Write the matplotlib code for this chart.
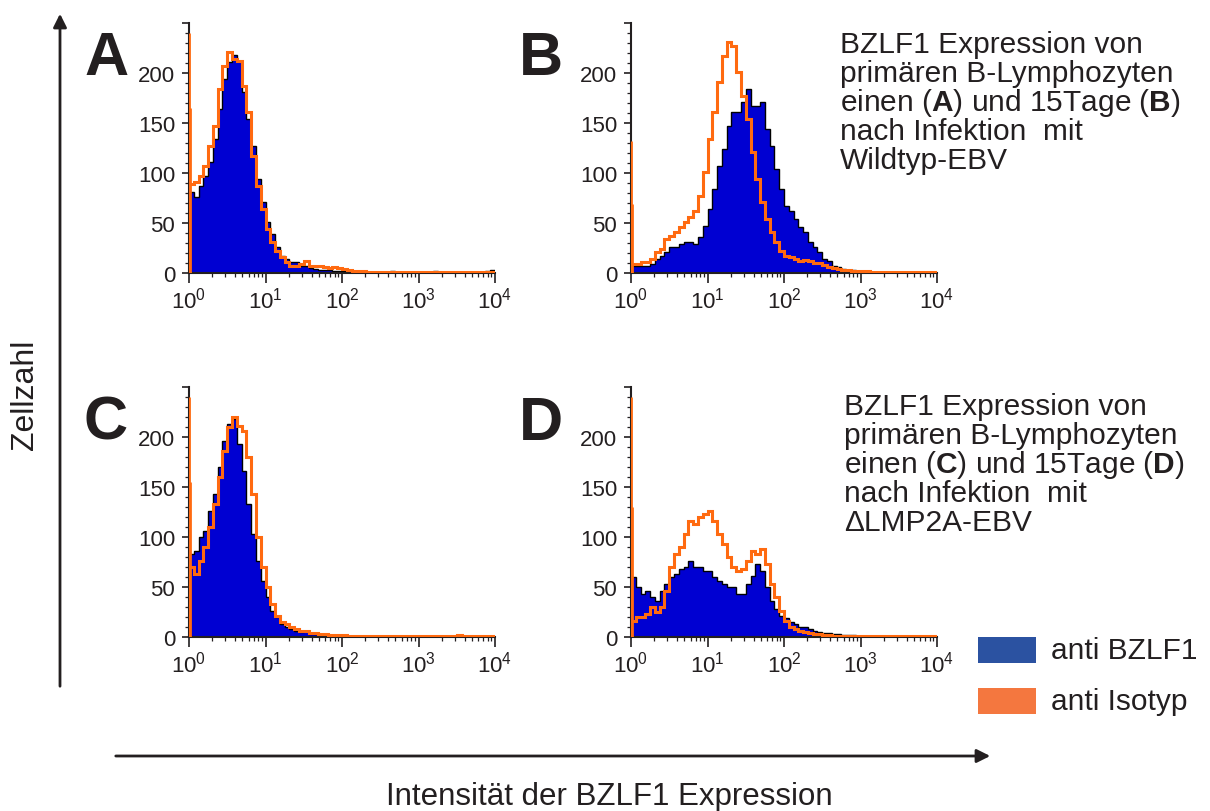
import numpy as np
import matplotlib.pyplot as plt
from matplotlib.patches import FancyArrowPatch, Rectangle
from matplotlib.ticker import FixedLocator, MultipleLocator, LogLocator, NullFormatter

plt.rcParams['font.family'] = ['Liberation Sans', 'DejaVu Sans']
plt.rcParams['mathtext.fontset'] = 'custom'
plt.rcParams['mathtext.rm'] = 'Liberation Sans'
plt.rcParams['mathtext.bf'] = 'Liberation Sans:bold'
plt.rcParams['mathtext.it'] = 'Liberation Sans:italic'

# histogram bins: 16 channels per decade, 10^0 .. 10^4
edges = 10 ** (np.arange(65) / 16)

# cell counts per bin
A_bzlf1 = [81, 76, 87, 97, 111, 134, 164, 194, 211, 218, 212, 181, 154, 127, 94, 71,
           51, 39, 26, 17, 14, 11, 11, 7, 7, 5, 4, 3, 3, 3, 2, 2,
           2, 2, 1, 1, 2, 1, 1, 1, 1, 1, 2, 1, 1, 1, 1, 1,
           1, 1, 1, 2, 1, 1, 1, 1, 1, 1, 1, 1, 1, 1, 2, 3]
A_isotyp = [89, 91, 97, 107, 127, 147, 184, 207, 221, 214, 212, 187, 161, 117, 87, 64,
            44, 31, 22, 16, 11, 7, 7, 9, 12, 7, 7, 7, 6, 5, 6, 5,
            4, 3, 2, 2, 2, 1, 1, 1, 1, 1, 1, 1, 1, 1, 1, 1,
            1, 1, 1, 1, 1, 1, 1, 1, 1, 1, 1, 1, 1, 1, 1, 1]
B_bzlf1 = [7, 7, 7, 7, 9, 14, 17, 21, 26, 26, 29, 31, 31, 29, 36, 47,
           64, 84, 107, 124, 147, 161, 161, 171, 184, 167, 167, 171, 144, 127, 104, 84,
           67, 62, 54, 46, 41, 31, 26, 21, 14, 12, 7, 6, 4, 3, 3, 2,
           2, 1, 1, 1, 1, 1, 1, 1, 1, 1, 1, 1, 1, 1, 1, 1]
B_isotyp = [9, 9, 11, 11, 14, 21, 24, 34, 37, 41, 46, 51, 56, 62, 77, 101,
            134, 161, 191, 217, 231, 227, 201, 177, 154, 121, 94, 71, 54, 41, 31, 22,
            17, 16, 14, 12, 13, 12, 10, 10, 8, 6, 5, 4, 3, 3, 2, 2,
            2, 2, 1, 1, 1, 1, 1, 1, 1, 1, 1, 1, 1, 1, 1, 1]
C_bzlf1 = [83, 86, 100, 106, 126, 143, 170, 196, 213, 218, 193, 166, 133, 103, 76, 56,
           40, 26, 20, 13, 10, 8, 6, 5, 6, 3, 3, 2, 2, 2, 2, 1,
           1, 1, 1, 1, 1, 1, 1, 1, 1, 1, 1, 1, 1, 1, 1, 1,
           1, 1, 1, 1, 1, 1, 1, 1, 1, 1, 1, 1, 1, 1, 1, 1]
C_isotyp = [70, 63, 76, 90, 110, 133, 160, 186, 210, 220, 211, 206, 180, 143, 100, 70,
            50, 33, 21, 15, 13, 10, 8, 6, 6, 4, 4, 3, 3, 2, 2, 2,
            2, 1, 1, 1, 1, 1, 1, 1, 1, 1, 1, 1, 1, 1, 1, 1,
            1, 1, 1, 1, 1, 1, 1, 1, 2, 1, 1, 1, 1, 1, 1, 1]
D_bzlf1 = [60, 50, 43, 46, 40, 36, 46, 53, 60, 63, 68, 70, 76, 70, 70, 66,
           66, 60, 56, 53, 50, 50, 43, 43, 53, 61, 73, 66, 50, 36, 28, 21,
           19, 15, 13, 10, 10, 8, 6, 5, 4, 4, 3, 3, 2, 2, 2, 1,
           1, 1, 1, 1, 1, 1, 1, 1, 1, 1, 1, 1, 1, 1, 1, 1]
D_isotyp = [16, 20, 20, 23, 30, 25, 30, 46, 70, 83, 90, 103, 116, 113, 120, 123,
            126, 116, 103, 93, 80, 70, 66, 68, 76, 86, 83, 88, 73, 53, 40, 26,
            16, 10, 8, 6, 5, 4, 3, 3, 2, 2, 1, 1, 1, 1, 1, 1,
            1, 1, 1, 1, 1, 1, 1, 1, 1, 1, 1, 1, 1, 1, 1, 1]
# off-scale events piled up in the first two channels (isotype)
A_spike = [240, 165]
B_spike = [132, 69]
C_spike = [240, 155]
D_spike = [240, 130]

y_ticks = [0, 50, 100, 150, 200, 250]
y_labels = ['0', '50', '100', '150', '200', '']

text_AB = ['BZLF1 Expression von', 'primären B-Lymphozyten',
           r'einen ($\mathbf{A}$) und 15Tage ($\mathbf{B}$)', 'nach Infektion  mit', 'Wildtyp-EBV']
text_CD = ['BZLF1 Expression von', 'primären B-Lymphozyten',
           r'einen ($\mathbf{C}$) und 15Tage ($\mathbf{D}$)', 'nach Infektion  mit', 'ΔLMP2A-EBV']

FILL = '#0000d2'
ORANGE = '#ff6a10'
INK = '#231f20'

W, H = 1210, 812
fig = plt.figure(figsize=(W / 100, H / 100), dpi=100)


def fx(x):
    return x / W


def fy(y):
    return 1 - y / H


def panel(x0, y0, blue, orange, spike):
    ax = fig.add_axes([fx(x0), fy(y0), 306 / W, 250 / H])
    ax.stairs(blue, edges, fill=True, color=FILL, lw=0, zorder=1)
    ax.stairs(blue, edges, color='black', lw=1.0, zorder=2)
    ax.stairs(orange, edges, color=ORANGE, lw=2.2, zorder=3)
    ax.vlines([10 ** 0.006, 10 ** 0.018], 0, spike, color=ORANGE, lw=2.0, zorder=3)
    ax.set_xscale('log')
    ax.set_xlim(1, 1e4)
    ax.set_ylim(0, 250)
    ax.yaxis.set_major_locator(FixedLocator(y_ticks))
    ax.set_yticklabels(y_labels)
    ax.yaxis.set_minor_locator(MultipleLocator(10))
    ax.xaxis.set_major_locator(LogLocator(base=10, numticks=10))
    ax.xaxis.set_minor_locator(LogLocator(base=10, subs=np.arange(2, 10), numticks=20))
    ax.xaxis.set_minor_formatter(NullFormatter())
    for s in ['top', 'right']:
        ax.spines[s].set_visible(False)
    for s in ['left', 'bottom']:
        ax.spines[s].set_linewidth(1.5)
        ax.spines[s].set_color(INK)
    ax.tick_params(axis='both', which='major', direction='out', length=5, width=1.2,
                   labelsize=16, colors=INK)
    ax.tick_params(axis='x', which='major', length=7, pad=3)
    ax.tick_params(axis='y', which='major', pad=5)
    ax.tick_params(axis='both', which='minor', direction='out', length=3, width=0.9, colors=INK)
    ax.patch.set_alpha(0)
    return ax


panel(189, 274, A_bzlf1, A_isotyp, A_spike)
panel(631, 274, B_bzlf1, B_isotyp, B_spike)
panel(189, 638, C_bzlf1, C_isotyp, C_spike)
panel(631, 638, D_bzlf1, D_isotyp, D_spike)

# panel letters
for letter, x, y in [('A', 84, 75), ('B', 519, 75), ('C', 84, 440), ('D', 519, 440)]:
    fig.text(fx(x), fy(y), letter, fontsize=44, fontweight='bold', va='baseline', color=INK)

# descriptions
for i, line in enumerate(text_AB):
    fig.text(fx(840), fy(53 + 29 * i), line, fontsize=21.5, va='baseline', color=INK)
for i, line in enumerate(text_CD):
    fig.text(fx(844), fy(415 + 29 * i), line, fontsize=21.5, va='baseline', color=INK)

# axis arrows and titles
fig.add_artist(FancyArrowPatch((fx(60), fy(690)), (fx(60), fy(12)), transform=fig.transFigure,
                               arrowstyle='-|>', mutation_scale=20, lw=2, color=INK))
fig.add_artist(FancyArrowPatch((fx(113), fy(757)), (fx(993), fy(757)), transform=fig.transFigure,
                               arrowstyle='-|>', mutation_scale=20, lw=2, color=INK))
fig.text(fx(25), fy(395), 'Zellzahl', rotation=90, fontsize=23, ha='center', va='center',
         color=INK)
fig.text(fx(609), fy(797), 'Intensität der BZLF1 Expression', fontsize=22.5, ha='center',
         va='center', color=INK)

# legend
legend_items = [('anti BZLF1', '#2b52a1', 638), ('anti Isotyp', '#f4773f', 689)]
for label, col, ytop in legend_items:
    fig.add_artist(Rectangle((fx(978), fy(ytop + 26)), 58 / W, 26 / H, transform=fig.transFigure,
                             facecolor=col, edgecolor='none'))
    fig.text(fx(1051), fy(ytop + 13), label, fontsize=21.5, va='center', color=INK)

fig.savefig('out.png', dpi=100)
